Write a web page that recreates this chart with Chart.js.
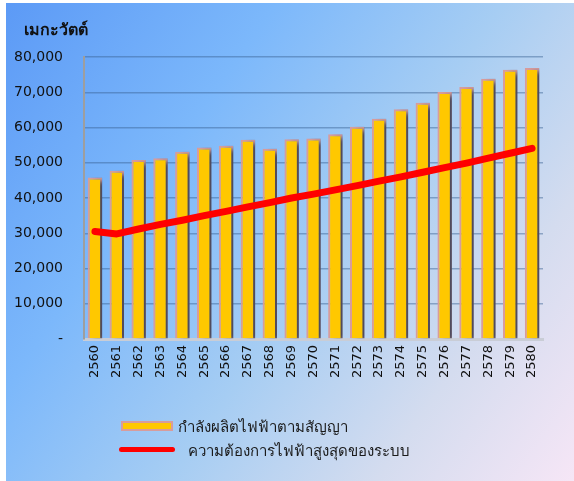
<!DOCTYPE html>
<html>
<head>
<meta charset="utf-8">
<script src="https://cdn.jsdelivr.net/npm/chart.js@4.4.0/dist/chart.umd.min.js"></script>
<style>
  html, body { margin: 0; padding: 0; background: #fff; }
  #wrap { position: relative; width: 574px; height: 481px; overflow: hidden; }
  #bg {
    position: absolute; left: 6px; top: 3px; width: 568px; height: 478px;
    background: linear-gradient(125deg, #5c9af6 0%, #7cb8fb 30%, #a6cdf3 55%, #d4dcef 78%, #f6e6f6 100%);
  }
  #chart { position: absolute; left: 0; top: 0; }
  .leg { position: absolute; font: 15px "DejaVu Sans", sans-serif; color: #1a1a1a; white-space: nowrap; }
  .title { position: absolute; left: 24px; top: 17px; font: bold 16px "DejaVu Sans", sans-serif; color: #111; }
  .swatch-bar { position: absolute; left: 121px; top: 421px; width: 48px; height: 6px; background: #ffc800; border: 2px solid #d79c9c; }
  .swatch-line { position: absolute; left: 119px; top: 447px; width: 56px; height: 5px; background: #ff0000; border-radius: 3px; }
</style>
</head>
<body>
<div id="wrap">
  <div id="bg"></div>
  <canvas id="chart" width="574" height="481"></canvas>
  <div class="title">เมกะวัตต์</div>
  <div class="swatch-bar"></div>
  <div class="leg" style="left:178px; top:415px;">กำลังผลิตไฟฟ้าตามสัญญา</div>
  <div class="swatch-line"></div>
  <div class="leg" style="left:188px; top:439px;">ความต้องการไฟฟ้าสูงสุดของระบบ</div>
</div>
<script>
// ปี พ.ศ.
const years = ['2560','2561','2562','2563','2564','2565','2566','2567','2568','2569','2570',
               '2571','2572','2573','2574','2575','2576','2577','2578','2579','2580'];

// กำลังผลิตไฟฟ้าตามสัญญา (MW)
const contractCapacity = [45800, 47700, 50800, 51300, 53100, 54300, 54800, 56500, 54000, 56700, 56900,
                          58100, 60200, 62500, 65200, 67000, 70100, 71500, 73800, 76400, 76900];

// ความต้องการไฟฟ้าสูงสุดของระบบ (MW)
const peakDemand = [30500, 29800, 31200, 32500, 33700, 35000, 36200, 37500, 38700, 40000, 41100,
                    42300, 43500, 44800, 46000, 47300, 48600, 49900, 51300, 52700, 54100];

const yTicks = [0, 10000, 20000, 30000, 40000, 50000, 60000, 70000, 80000];

// เงาของแท่ง
const barShadow = {
    id: 'barShadow',
    beforeDatasetDraw(chart, args) {
        if (args.index !== 0) return;
        const ctx = chart.ctx;
        ctx.save();
        ctx.shadowColor = 'rgba(30,45,70,0.75)';
        ctx.shadowBlur = 5;
        ctx.shadowOffsetX = 6;
        ctx.shadowOffsetY = 2;
    },
    afterDatasetDraw(chart, args) {
        if (args.index !== 0) return;
        chart.ctx.restore();
    }
};

new Chart(document.getElementById('chart'), {
    data: {
        labels: years,
        datasets: [{
            type: 'bar',
            label: 'กำลังผลิตไฟฟ้าตามสัญญา',
            data: contractCapacity,
            backgroundColor: '#ffc800',
            borderColor: '#d79c9c',
            borderWidth: 2,
            barPercentage: 0.66,
            categoryPercentage: 1,
            order: 1
        }, {
            type: 'line',
            label: 'ความต้องการไฟฟ้าสูงสุดของระบบ',
            data: peakDemand,
            borderColor: '#ff0000',
            borderWidth: 7,
            borderCapStyle: 'round',
            borderJoinStyle: 'round',
            tension: 0,
            pointRadius: 0,
            fill: false,
            order: 0
        }]
    },
    options: {
        responsive: false,
        animation: false,
        layout: { padding: { left: 6, right: 31, top: 57, bottom: 0 } },
        plugins: {
            legend: { display: false },
            tooltip: { enabled: false }
        },
        scales: {
            x: {
                grid: { display: false, drawTicks: false },
                border: { display: true, color: '#c9cdd6', width: 3 },
                ticks: {
                    color: '#111',
                    minRotation: 90,
                    maxRotation: 90,
                    padding: 6,
                    font: { family: '"DejaVu Sans", sans-serif', size: 13 }
                },
                afterFit(scale) { scale.height = 142; }
            },
            y: {
                min: 0,
                max: 80000,
                afterBuildTicks(scale) { scale.ticks = yTicks.map(v => ({ value: v })); },
                grid: { color: 'rgba(55,95,145,0.45)', lineWidth: 1.5, drawTicks: false },
                border: { display: true, color: '#9e9e9e', width: 2 },
                ticks: {
                    color: '#111',
                    padding: 21,
                    font: { family: '"DejaVu Sans", sans-serif', size: 14 },
                    callback: v => v === 0 ? '-' : v.toLocaleString('en-US')
                },
                afterFit(scale) { scale.width = 78; }
            }
        }
    },
    plugins: [barShadow]
});
</script>
</body>
</html>
